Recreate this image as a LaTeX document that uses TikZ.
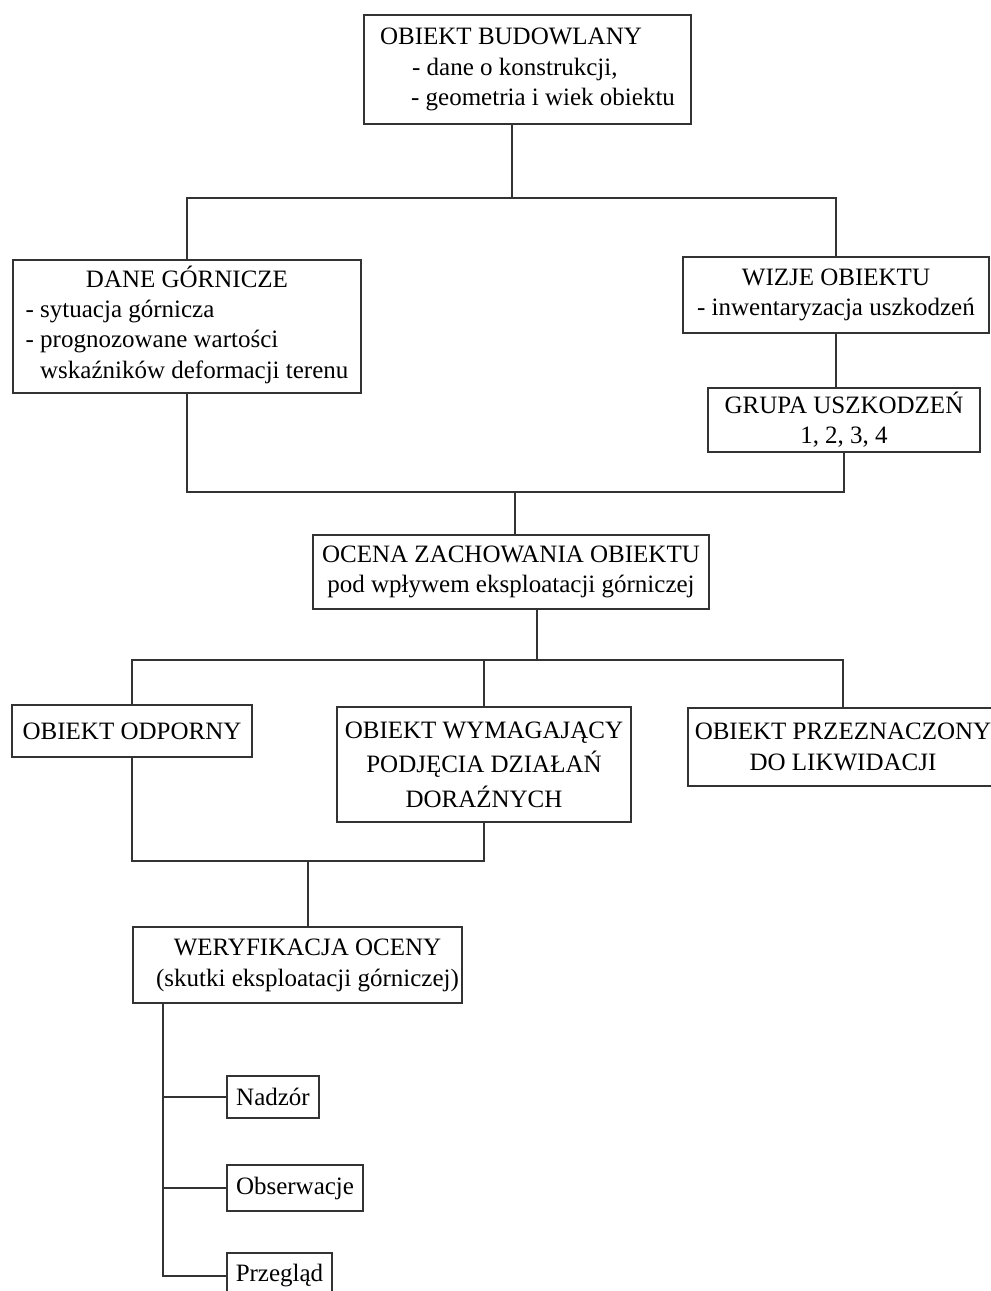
\documentclass[tikz,border=0pt]{standalone}
\usepackage{fontspec}
\setmainfont{Liberation Serif}
\definecolor{ln}{HTML}{333333}
\begin{document}
\begin{tikzpicture}[x=1pt,y=-1pt,
  box/.style={draw=ln, line width=1.4pt, inner sep=0pt, text=black,
    font=\fontsize{25}{30.3}\selectfont, align=center},
  conn/.style={draw=ln, line width=1.4pt}]
\path[use as bounding box, clip] (0,0) rectangle (991,1291);
\fill[white] (0,0) rectangle (991,1291);

\node[box, minimum width=327, minimum height=109, align=left] (top) at (527.5,69.5)
  {OBIEKT BUDOWLANY\\\hspace*{32pt}- dane o konstrukcji,\\\hspace*{31pt}- geometria i wiek obiektu};
\node[box, minimum width=348, minimum height=133] (dane) at (187,326.5)
  {\begin{tabular}{@{}l@{}}\multicolumn{1}{@{}c@{}}{DANE GÓRNICZE}\\- sytuacja górnicza\\- prognozowane wartości\\\phantom{- }wskaźników deformacji terenu\end{tabular}};
\node[box, minimum width=306, minimum height=76] (wizje) at (836,295)
  {WIZJE OBIEKTU\\- inwentaryzacja uszkodzeń};
\node[box, minimum width=272, minimum height=64] (grupa) at (844,420)
  {GRUPA USZKODZEŃ\\1, 2, 3, 4};
\node[box, minimum width=396, minimum height=74] (ocena) at (511,572)
  {OCENA ZACHOWANIA OBIEKTU\\pod wpływem eksploatacji górniczej};
\node[box, minimum width=240, minimum height=52] (odporny) at (132,731)
  {OBIEKT ODPORNY};
\node[box, minimum width=294, minimum height=115, font=\fontsize{25}{34.5}\selectfont] (wym) at (484,764.5)
  {OBIEKT WYMAGAJĄCY\\PODJĘCIA DZIAŁAŃ\\DORAŹNYCH};
\node[box, minimum width=310, minimum height=78, font=\fontsize{25}{31.5}\selectfont] (likw) at (843,747)
  {OBIEKT PRZEZNACZONY\\DO LIKWIDACJI};
\node[box, minimum width=329, minimum height=76] (wer) at (297.5,965)
  {\hspace*{20pt}\begin{tabular}{@{}c@{}}WERYFIKACJA OCENY\\(skutki eksploatacji górniczej)\end{tabular}};
\node[box, minimum width=92, minimum height=42] (nadzor) at (273,1097) {Nadzór};
\node[box, minimum width=136, minimum height=46] (obs) at (295,1188) {Obserwacje};
\node[box, minimum width=105, minimum height=46] (prz) at (279.5,1276) {Przegląd};

\coordinate (j1) at (512,198);
\coordinate (j2) at (515,492);
\coordinate (j3) at (537,660);
\coordinate (j4) at (308,861);
\coordinate (j5) at (163,1276);

\draw[conn] (j1 |- top.south) -- (j1);
\draw[conn] (dane.north) |- (j1) -| (wizje.north);
\draw[conn] (wizje.south) -- (wizje.south |- grupa.north);
\draw[conn] (dane.south) |- (j2) -| (grupa.south);
\draw[conn] (j2) -- (j2 |- ocena.north);
\draw[conn] (j3 |- ocena.south) -- (j3);
\draw[conn] (odporny.north) |- (j3) -| (likw.north);
\draw[conn] (wym.north) -- (wym.north |- j3);
\draw[conn] (odporny.south) |- (j4) -| (wym.south);
\draw[conn] (j4) -- (j4 |- wer.north);
\draw[conn] (j5 |- wer.south) -- (j5) -- (prz.west);
\draw[conn] (nadzor.west -| j5) -- (nadzor.west);
\draw[conn] (obs.west -| j5) -- (obs.west);
\end{tikzpicture}
\end{document}
